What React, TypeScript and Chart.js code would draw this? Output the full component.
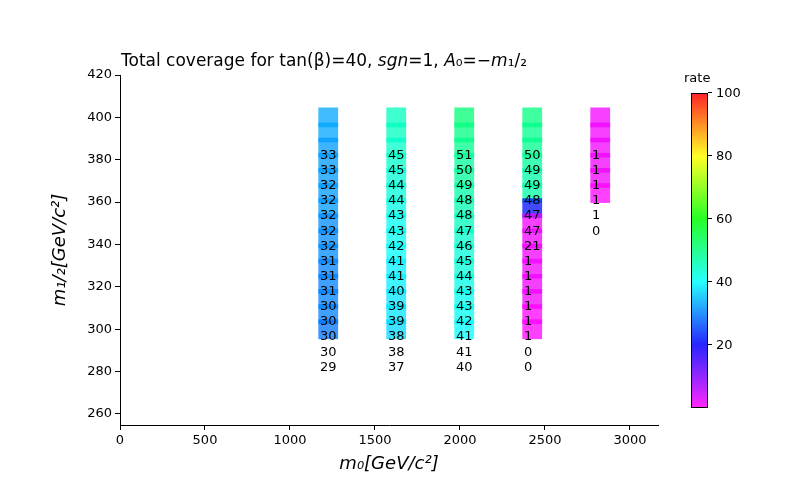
import { useEffect, useRef } from "react"
import Chart from "chart.js/auto"

// columns in m0, rows in m1/2
const m0Columns = [1200, 1600, 2000, 2400, 2800]
const squareShift = 25 // squares drawn slightly right of the text column
const m12Top = 400
const m12Step = 100 / 14
const labelDrop = 18

const rates1 = [33, 33, 32, 32, 32, 32, 32, 31, 31, 31, 30, 30, 30, 30, 29]
const rates2 = [45, 45, 44, 44, 43, 43, 42, 41, 41, 40, 39, 39, 38, 38, 37]
const rates3 = [51, 50, 49, 48, 48, 47, 46, 45, 44, 43, 43, 42, 41, 41, 40]
const rates4 = [50, 49, 49, 48, 47, 47, 21, 1, 1, 1, 1, 1, 1, 0, 0]
const rates5 = [1, 1, 1, 1, 1, 0]
const allRates = [rates1, rates2, rates3, rates4, rates5]

const xTicks = [0, 500, 1000, 1500, 2000, 2500, 3000]
const yTicks = [260, 280, 300, 320, 340, 360, 380, 400, 420]
const barTicks = [20, 40, 60, 80, 100]

const FONT = "'DejaVu Sans', sans-serif"

function rateColor(v: number, a = 0.75) {
  const hue = 300 * (1 - v / 100)
  return `hsla(${hue}, 100%, 50%, ${a})`
}

export default function App() {
  const ref = useRef<HTMLCanvasElement>(null)

  useEffect(() => {
    if (!ref.current) return
    const points: { x: number; y: number; v: number }[] = []
    allRates.forEach((rs, c) =>
      rs.forEach((v, i) => points.push({ x: m0Columns[c] + squareShift, y: m12Top - i * m12Step, v }))
    )

    const overlay = {
      id: "overlay",
      afterDatasetsDraw(chart: any) {
        const { ctx, scales } = chart
        ctx.save()
        ctx.fillStyle = "#000"
        ctx.font = `13px ${FONT}`
        ctx.textBaseline = "middle"
        allRates.forEach((rs, c) =>
          rs.forEach((v, i) => {
            ctx.fillText(
              String(v),
              scales.x.getPixelForValue(m0Columns[c]) - 4,
              scales.y.getPixelForValue(m12Top - i * m12Step - labelDrop)
            )
          })
        )
        // title
        ctx.textBaseline = "alphabetic"
        let x = 121
        const parts: [string, boolean][] = [
          ["Total coverage for tan(β)=40, ", false],
          ["sgn", true],
          ["=1, ", false],
          ["A", true],
          ["₀=−", false],
          ["m", true],
          ["₁/₂", false],
        ]
        parts.forEach(([t, it]) => {
          ctx.font = `${it ? "italic " : ""}17px ${FONT}`
          ctx.fillText(t, x, 66)
          x += ctx.measureText(t).width
        })
        ctx.restore()
      },
    }

    const chart = new Chart(ref.current, {
      type: "scatter",
      data: {
        datasets: [
          {
            data: points,
            pointStyle: "rect",
            pointRadius: 14,
            borderWidth: 0,
            backgroundColor: points.map((p) => rateColor(p.v)),
          } as any,
        ],
      },
      options: {
        animation: false,
        responsive: false,
        layout: { padding: { top: 75, right: 142, bottom: 25, left: 50 } },
        plugins: { legend: { display: false }, tooltip: { enabled: false } },
        scales: {
          x: {
            min: 0,
            max: 3165,
            afterFit: (s: any) => { s.height = 50 },
            afterBuildTicks: (s: any) => { s.ticks = xTicks.map((value) => ({ value })) },
            grid: { drawOnChartArea: false, tickLength: 5, color: "#000" },
            border: { color: "#000" },
            ticks: { color: "#000", font: { family: FONT, size: 13 }, maxRotation: 0, callback: (v: any) => String(v) },
            title: { display: true, text: "m₀[GeV/c²]", color: "#000", font: { family: FONT, size: 18, style: "italic" }, padding: 0 },
          },
          y: {
            min: 254.8,
            max: 420,
            afterFit: (s: any) => { s.width = 70 },
            afterBuildTicks: (s: any) => { s.ticks = yTicks.map((value) => ({ value })) },
            grid: { drawOnChartArea: false, tickLength: 5, color: "#000" },
            border: { color: "#000" },
            ticks: { color: "#000", font: { family: FONT, size: 13 }, callback: (v: any) => String(v) },
            title: { display: true, text: "m₁/₂[GeV/c²]", color: "#000", font: { family: FONT, size: 18, style: "italic" }, padding: 0 },
          },
        },
      },
      plugins: [overlay],
    })
    return () => chart.destroy()
  }, [])

  const gradient = `linear-gradient(to top, ${[0, 20, 40, 60, 80, 100].map((v) => rateColor(v, 0.85)).join(", ")})`
  const barTop = 93
  const barH = 315

  return (
    <div style={{ position: "fixed", left: 0, top: 0, width: 800, height: 500, background: "#fff", fontFamily: FONT }}>
      <canvas ref={ref} width={800} height={500} />
      <div style={{ position: "absolute", left: 691, top: barTop, width: 17, height: barH, background: gradient, border: "1px solid #000", boxSizing: "border-box" }} />
      <div style={{ position: "absolute", left: 684, top: 70, fontSize: 13 }}>rate</div>
      {barTicks.map((t) => (
        <div key={t} style={{ position: "absolute", left: 708, top: barTop + barH * (1 - t / 100) - 8, fontSize: 13, display: "flex", alignItems: "center" }}>
          <span style={{ display: "inline-block", width: 4, height: 1, background: "#000", marginRight: 4 }} />
          {t}
        </div>
      ))}
    </div>
  )
}
